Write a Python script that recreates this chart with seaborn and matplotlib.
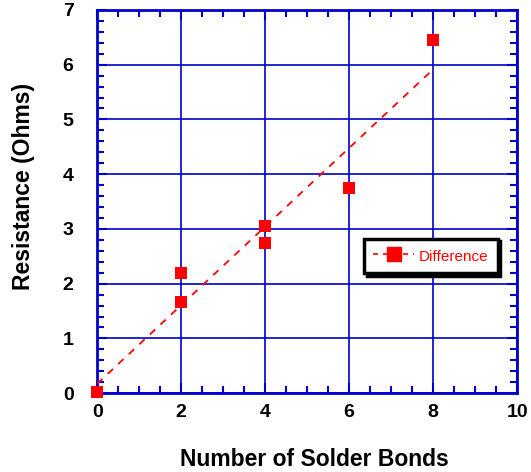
import numpy as np
import pandas as pd
import matplotlib
matplotlib.use("Agg")
import matplotlib.pyplot as plt
import seaborn as sns
from matplotlib.ticker import MultipleLocator
from matplotlib.lines import Line2D

# data
bonds = [0, 2, 2, 4, 4, 6, 8]
resistance = [0.02, 2.2, 1.66, 3.05, 2.74, 3.75, 6.45]

df = pd.DataFrame({"bonds": bonds, "resistance": resistance})

sns.set_theme(style="white")
plt.rcParams['font.family'] = ['Liberation Sans', 'DejaVu Sans']
plt.rcParams['text.color'] = 'black'
plt.rcParams['axes.labelcolor'] = 'black'
plt.rcParams['xtick.labelcolor'] = 'black'
plt.rcParams['ytick.labelcolor'] = 'black'

blue = '#0000cc'

fig = plt.figure(figsize=(5.31, 4.72), dpi=100)
ax = fig.add_axes([0.183, 0.167, 0.791, 0.812])

sns.regplot(data=df, x="bonds", y="resistance", ax=ax, ci=None, marker='s',
            color='red',
            scatter_kws={'s': 85, 'alpha': 1, 'zorder': 4, 'linewidths': 0,
                         'clip_on': False},
            line_kws={'linestyle': (0, (4, 4)), 'linewidth': 1.3, 'zorder': 3})

ax.set_xlim(0, 10)
ax.set_ylim(0, 7)
ax.xaxis.set_major_locator(MultipleLocator(2))
ax.xaxis.set_minor_locator(MultipleLocator(0.5))
ax.yaxis.set_major_locator(MultipleLocator(1))
ax.yaxis.set_minor_locator(MultipleLocator(0.2))

ax.grid(True, which='major', color=blue, linewidth=1.2)
ax.set_axisbelow(True)
for s in ax.spines.values():
    s.set_color(blue)
    s.set_linewidth(2)

ax.tick_params(which='both', direction='in', top=True, right=True,
               bottom=True, left=True, color=blue)
ax.tick_params(which='major', length=7, width=1.5)
ax.tick_params(which='minor', length=5, width=1.5)
ax.tick_params(axis='x', which='major', pad=8, labelsize=14)
ax.tick_params(axis='y', which='major', pad=17, labelsize=14)
for lab in ax.get_xticklabels() + ax.get_yticklabels():
    lab.set_fontweight('bold')

ax.set_xlabel("Number of Solder Bonds", fontsize=16.5, fontweight='bold')
ax.set_ylabel("Resistance (Ohms)", fontsize=16.5, fontweight='bold')
ax.xaxis.set_label_coords(0.517, -0.142)
ax.yaxis.set_label_coords(-0.147, 0.54)

handle = Line2D([], [], color='red', linestyle=(0, (3, 3)), marker='s',
                markersize=10, linewidth=1.2)
leg = ax.legend([handle], ["Difference"], loc='upper left',
                bbox_to_anchor=(0.635, 0.403), frameon=True, fancybox=False,
                shadow={'color': 'black', 'alpha': 1, 'ox': 2, 'oy': -2},
                fontsize=11, handlelength=2.7, handletextpad=0.3,
                handleheight=1.2, borderpad=0.6, borderaxespad=0,
                labelcolor='red')
leg.get_frame().set_edgecolor('black')
leg.get_frame().set_linewidth(2.5)

fig.savefig("out.png", dpi=100)
